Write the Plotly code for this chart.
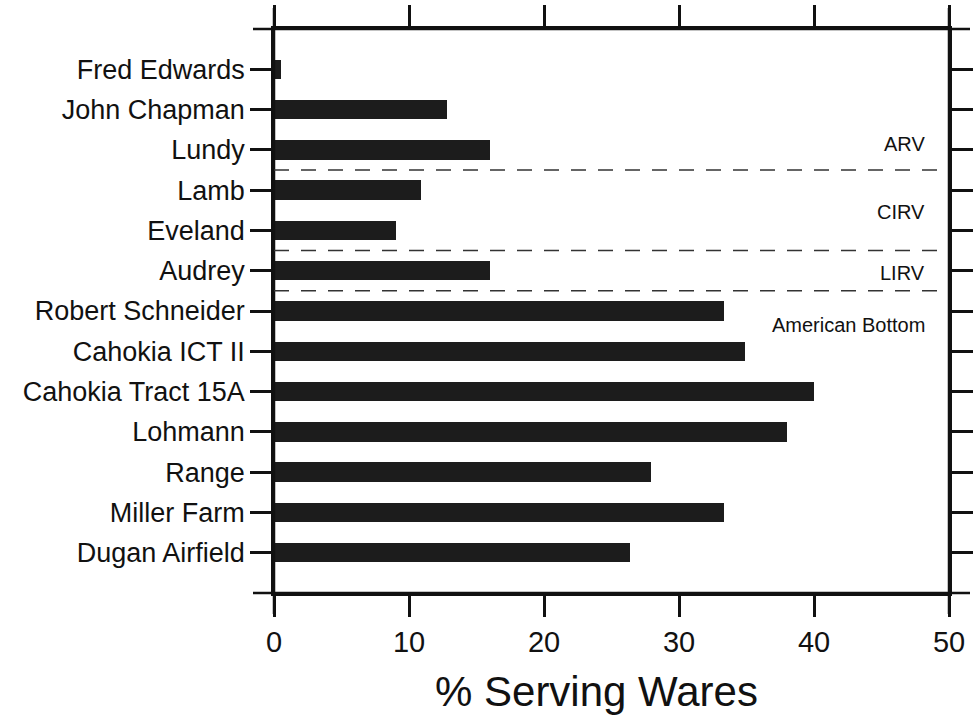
import plotly.graph_objects as go

# Sites, top to bottom, and their share of serving wares (%)
sites = [
    "Fred Edwards", "John Chapman", "Lundy", "Lamb", "Eveland", "Audrey",
    "Robert Schneider", "Cahokia ICT II", "Cahokia Tract 15A", "Lohmann",
    "Range", "Miller Farm", "Dugan Airfield",
]
serving_pct = [0.5, 12.8, 16.0, 10.9, 9.0, 16.0, 33.3, 34.9, 40.0, 38.0, 27.9, 33.3, 26.4]

# Regional groups: label and the boundary (between site rows) below each group
regions = ["ARV", "CIRV", "LIRV", "American Bottom"]
region_label_rows = [1.85, 3.55, 5.05, 6.35]
region_breaks = [2.5, 4.5, 5.5]

x_ticks = [0, 10, 20, 30, 40, 50]

FONT = "Liberation Sans, Arial, Helvetica, sans-serif"
INK = "#111111"
LW = 2.5
TICKLEN = 21

fig = go.Figure(
    go.Bar(
        x=serving_pct,
        y=sites,
        orientation="h",
        width=0.48,
        marker=dict(color="#1c1c1c", line=dict(width=0)),
        hoverinfo="x+y",
    )
)

fig.update_xaxes(
    range=[0, 50],
    tickvals=x_ticks,
    ticks="outside",
    ticklen=TICKLEN,
    tickwidth=LW,
    tickcolor=INK,
    showline=True,
    linewidth=LW,
    linecolor=INK,
    mirror="ticks",
    showgrid=False,
    zeroline=False,
    automargin=False,
    tickfont=dict(family=FONT, size=29, color=INK),
)
fig.update_yaxes(
    type="category",
    categoryorder="array",
    categoryarray=sites,
    range=[13, -1],
    ticks="outside",
    ticklen=TICKLEN,
    tickwidth=LW,
    tickcolor=INK,
    showline=True,
    linewidth=LW,
    linecolor=INK,
    mirror="ticks",
    showgrid=False,
    zeroline=False,
    automargin=False,
    tickfont=dict(family=FONT, size=27, color=INK),
)

# Frame lines run on past the corners by one tick length
plot_w = 977 - 274 - 28
plot_h = 721 - 29 - 128
ex = TICKLEN / plot_w
ey = TICKLEN / plot_h
frame = [
    (-ex, 0, 1 + ex, 0),
    (-ex, 1, 1 + ex, 1),
    (0, -ey, 0, 1 + ey),
    (1, -ey, 1, 1 + ey),
]
for x0, y0, x1, y1 in frame:
    fig.add_shape(
        type="line", xref="paper", yref="paper",
        x0=x0, y0=y0, x1=x1, y1=y1,
        line=dict(color=INK, width=LW),
        layer="above",
    )

# Dashed separators between regional groups
for b in region_breaks:
    fig.add_shape(
        type="line", xref="paper", yref="y",
        x0=0, x1=1, y0=b, y1=b,
        line=dict(color="#333333", width=1.5, dash="15px,12px"),
    )

for name, row in zip(regions, region_label_rows):
    fig.add_annotation(
        x=48.4, y=row, xref="x", yref="y",
        text=name, showarrow=False,
        xanchor="right", yanchor="middle",
        font=dict(family=FONT, size=20, color=INK),
    )

# Axis title
fig.add_annotation(
    x=(596 - 274) / plot_w, y=(593 - 691) / plot_h,
    xref="paper", yref="paper",
    text="% Serving Wares", showarrow=False,
    xanchor="center", yanchor="middle",
    font=dict(family=FONT, size=42, color=INK),
)

fig.update_layout(
    width=977,
    height=721,
    margin=dict(l=274, r=28, t=29, b=128),
    paper_bgcolor="white",
    plot_bgcolor="white",
    showlegend=False,
    bargap=0,
)

fig.write_html("out.html")
